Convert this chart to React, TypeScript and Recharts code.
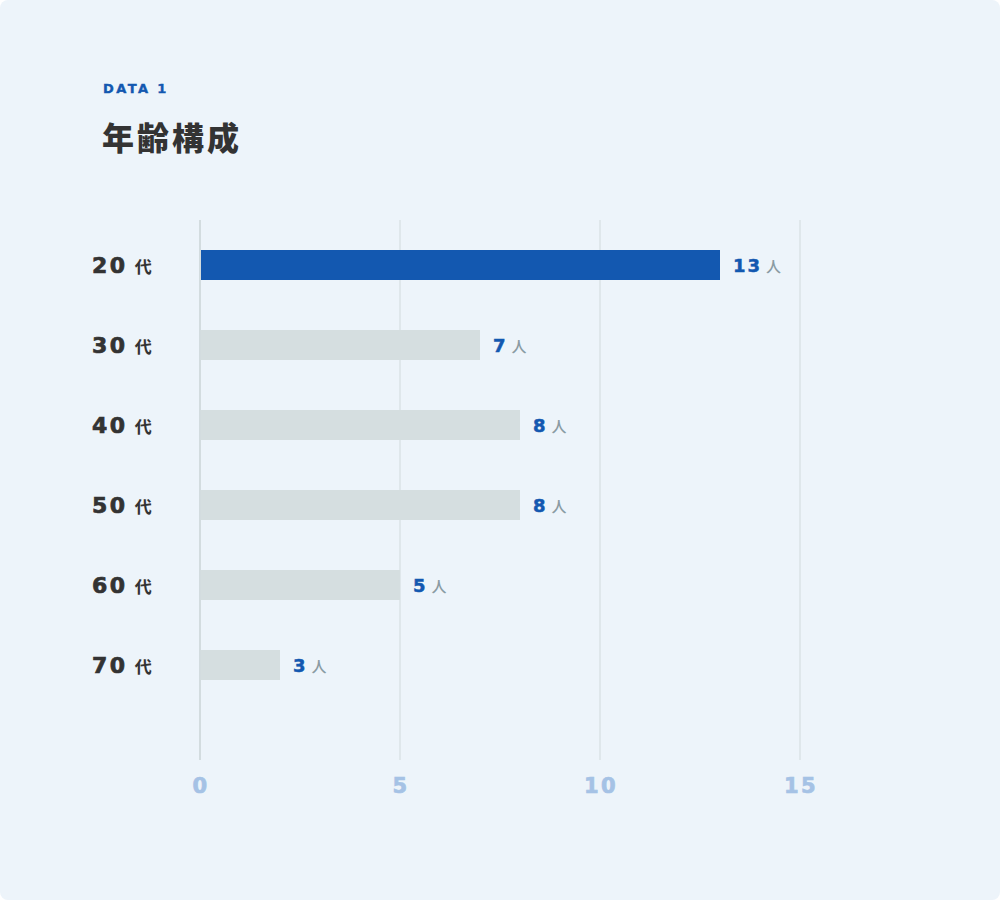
import {
  BarChart,
  Bar,
  Cell,
  XAxis,
  YAxis,
  CartesianGrid,
  ReferenceLine,
  LabelList,
} from "recharts";

// age bands (代) and head counts as drawn; the 70代 bar is drawn at 2 but labelled 3
const ageBands = ["20", "30", "40", "50", "60", "70"];
const barCounts = [13, 7, 8, 8, 5, 2];
const labelCounts = [13, 7, 8, 8, 5, 3];
const xTicks = [0, 5, 10, 15];

const BLUE = "#1358B0";
const GREY_BAR = "#D5DEE0";
const NUM_FONT = "'DejaVu Sans', 'Noto Sans', sans-serif";
const JP_FONT = "'Noto Sans CJK JP', 'Noto Sans', sans-serif";

const data = ageBands.map((band, i) => ({
  band,
  count: barCounts[i],
  label: labelCounts[i],
}));

function AgeTick({ y, payload }: any) {
  return (
    <text x={92} y={y} dominantBaseline="central" fill="#333333">
      <tspan
        fontFamily={NUM_FONT}
        fontWeight={700}
        fontSize={22}
        letterSpacing={2.5}
        stroke="#333333"
        strokeWidth={0.7}
      >
        {payload.value}
      </tspan>
      <tspan dx={7} fontFamily={JP_FONT} fontWeight={700} fontSize={17}>
        代
      </tspan>
    </text>
  );
}

function CountTick({ x, payload }: any) {
  return (
    <text
      x={x + 1}
      y={786}
      textAnchor="middle"
      dominantBaseline="central"
      fill="#A5C2E5"
      stroke="#A5C2E5"
      strokeWidth={0.7}
      fontFamily={NUM_FONT}
      fontWeight={700}
      fontSize={21}
      letterSpacing={2.5}
    >
      {payload.value}
    </text>
  );
}

function CountLabel({ x, y, width, height, value }: any) {
  return (
    <text x={x + width + 13} y={y + height / 2} dominantBaseline="central">
      <tspan
        fill={BLUE}
        stroke={BLUE}
        strokeWidth={0.5}
        fontFamily={NUM_FONT}
        fontWeight={700}
        fontSize={18}
        letterSpacing={2}
      >
        {value}
      </tspan>
      <tspan dx={4} fill="#8A9BA3" fontFamily={JP_FONT} fontWeight={500} fontSize={15}>
        人
      </tspan>
    </text>
  );
}

export default function App() {
  return (
    <div
      style={{
        position: "fixed",
        left: 0,
        top: 0,
        width: 1000,
        height: 900,
        background: "#EDF4FA",
        borderRadius: 8,
        overflow: "hidden",
      }}
    >
      <div
        style={{
          position: "absolute",
          left: 103,
          top: 81,
          fontFamily: NUM_FONT,
          fontWeight: 700,
          fontSize: 13,
          letterSpacing: 2.4,
          color: BLUE,
          WebkitTextStroke: "0.4px " + BLUE,
        }}
      >
        DATA 1
      </div>
      <div
        style={{
          position: "absolute",
          left: 102,
          top: 116,
          fontFamily: JP_FONT,
          fontWeight: 900,
          fontSize: 32,
          lineHeight: "40px",
          letterSpacing: 3,
          color: "#333333",
        }}
      >
        年齢構成
      </div>
      <div style={{ position: "absolute", left: 0, top: 0 }}>
        <BarChart
          width={1000}
          height={900}
          layout="vertical"
          data={data}
          margin={{ top: 220, right: 200, bottom: 100, left: 100 }}
        >
          <CartesianGrid horizontal={false} stroke="#DFE7EB" strokeWidth={2} />
          <XAxis
            type="number"
            domain={[0, 15]}
            ticks={xTicks}
            axisLine={false}
            tickLine={false}
            height={40}
            tick={<CountTick />}
          />
          <YAxis
            type="category"
            dataKey="band"
            width={100}
            axisLine={false}
            tickLine={false}
            padding={{ top: 5, bottom: 55 }}
            tick={<AgeTick />}
          />
          <ReferenceLine x={0} stroke="#D3DCDF" strokeWidth={2} />
          <Bar dataKey="count" barSize={30} isAnimationActive={false}>
            {data.map((d, i) => (
              <Cell key={d.band} fill={i === 0 ? BLUE : GREY_BAR} />
            ))}
            <LabelList dataKey="label" content={<CountLabel />} />
          </Bar>
        </BarChart>
      </div>
    </div>
  );
}
